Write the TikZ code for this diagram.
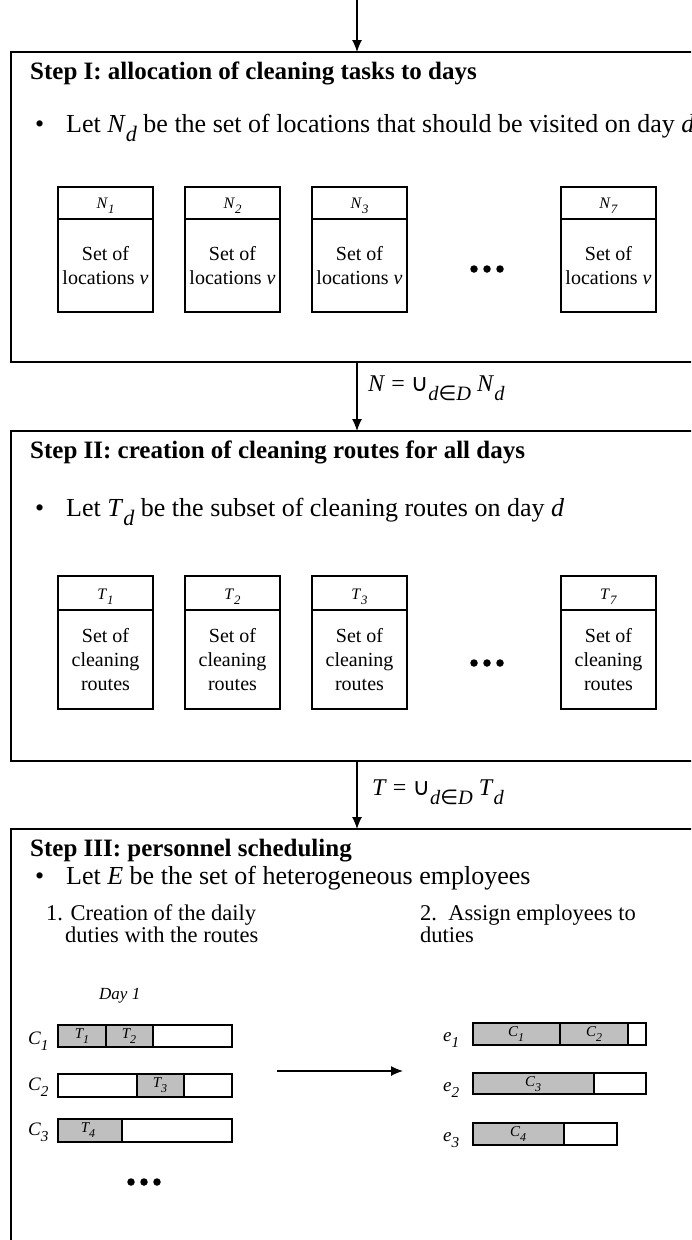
\documentclass[tikz,border=0pt]{standalone}
\usepackage{graphicx}
\usepackage{fontspec}
\setmainfont{Liberation Serif}
\newfontfamily\symf{DejaVu Sans}
\usetikzlibrary{arrows.meta}
\newcommand\lowsub[1]{\raisebox{-0.32em}{\scalebox{0.8}{#1}}}
\newcommand\deepsub[1]{\raisebox{-0.38em}{\scalebox{0.85}{#1}}}
\begin{document}
\begin{tikzpicture}[x=1pt,y=-1pt,
 frm/.style={line width=1.3pt},
 sbx/.style={draw,line width=1.2pt},
 arr/.style={line width=1.2pt,-{Latex[length=12pt,width=10pt]}},
 ttl/.style={anchor=base west,inner sep=0pt,font=\fontsize{25}{29}\selectfont\bfseries},
 btxt/.style={anchor=base west,inner sep=0pt,font=\fontsize{26}{30}\selectfont},
 hdr/.style={inner sep=0pt,anchor=base,font=\fontsize{16}{19}\selectfont},
 body/.style={inner sep=0pt,align=center,font=\fontsize{20}{24}\selectfont},
 itm/.style={anchor=base west,inner sep=0pt,font=\fontsize{22.5}{26}\selectfont},
 seg/.style={draw,line width=1.2pt},
 gseg/.style={seg,fill=gray!50},
 blab/.style={inner sep=0pt,font=\fontsize{15}{18}\selectfont\itshape},
 rlab/.style={anchor=base west,inner sep=0pt,font=\fontsize{19}{22}\selectfont\itshape},
 bdot/.style={circle,fill,inner sep=0pt,minimum size=7.5pt}
]
\useasboundingbox (0,0) rectangle (691,1240);
\clip (0,0) rectangle (691,1240);

% frames
\draw[frm] (720,52) -- (11,52) -- (11,362) -- (720,362);
\draw[frm] (720,431) -- (11,431) -- (11,761) -- (720,761);
\draw[frm] (720,829) -- (11,829) -- (11,1260);

% connector points
\coordinate (in) at (357,0);
\coordinate (s1t) at (357,52);
\coordinate (s1b) at (357,362);
\coordinate (s2t) at (357,431);
\coordinate (s2b) at (357,761);
\coordinate (s3t) at (357,829);
\draw[arr] (in) -- (s1t);
\draw[arr] (s1b) -- (s2t);
\draw[arr] (s2b) -- (s3t);

\node[btxt,font=\fontsize{24}{28}\selectfont] (lab1) at (368,391) {\textit{N} = {\symf ∪}\deepsub{\textit{d}{\symf ∈}\textit{D}} \textit{N}\deepsub{\textit{d}}};
\node[btxt,font=\fontsize{24}{28}\selectfont] (lab2) at (372,795) {\textit{T} = {\symf ∪}\deepsub{\textit{d}{\symf ∈}\textit{D}} \textit{T}\deepsub{\textit{d}}};

% Step I
\node[ttl] (t1) at (30,79) {Step I: allocation of cleaning tasks to days};
\node[btxt] (b1d) at (35,132) {•};
\node[btxt] (b1) at (66,132) {Let \textit{N}\deepsub{\textit{d}} be the set of locations that should be visited on day \textit{d}};
\foreach \i/\x in {1/58,2/185,3/312,7/561} {
  \draw[sbx] (\x,187) rectangle ({\x+95},312);
  \draw[sbx] (\x,219) -- ({\x+95},219);
  \node[hdr] (n\i) at ({\x+47.5},208) {\textit{N}\lowsub{\textit{\i}}};
  \node[body] (nb\i) at ({\x+47.5},266) {Set of\\locations \textit{v}};
}
\node[bdot] (d1a) at (474,269) {};
\node[bdot] (d1b) at (487,269) {};
\node[bdot] (d1c) at (500,269) {};

% Step II
\node[ttl] (t2) at (30,458) {Step II: creation of cleaning routes for all days};
\node[btxt] (b2d) at (35,516) {•};
\node[btxt] (b2) at (66,516) {Let \textit{T}\deepsub{\textit{d}} be the subset of cleaning routes on day \textit{d}};
\foreach \i/\x in {1/58,2/185,3/312,7/561} {
  \draw[sbx] (\x,576) rectangle ({\x+95},709);
  \draw[sbx] (\x,610) -- ({\x+95},610);
  \node[hdr] (tt\i) at ({\x+47.5},599) {\textit{T}\lowsub{\textit{\i}}};
  \node[body] (tb\i) at ({\x+47.5},660) {Set of\\cleaning\\routes};
}
\node[bdot] (d2a) at (474,663) {};
\node[bdot] (d2b) at (487,663) {};
\node[bdot] (d2c) at (500,663) {};

% Step III
\node[ttl] (t3) at (30,856) {Step III: personnel scheduling};
\node[btxt] (b3d) at (35,884) {•};
\node[btxt] (b3) at (66,884) {Let \textit{E} be the set of heterogeneous employees};
\node[itm] (i1a) at (46,920) {1. Creation of the daily};
\node[itm] (i1b) at (65,942) {duties with the routes};
\node[itm] (i2a) at (420,920) {2.\ \ Assign employees to};
\node[itm] (i2b) at (420,942) {duties};
\node[anchor=base west,inner sep=0pt,font=\fontsize{17}{20}\selectfont\itshape] (day) at (99,999) {Day 1};

% duties (left)
\draw[gseg] (58,1025) rectangle (106,1047);
\draw[gseg] (106,1025) rectangle (153,1047);
\draw[seg] (153,1025) rectangle (232,1047);
\node[blab] (ct1) at (82,1036) {T\lowsub{1}};
\node[blab] (ct2) at (129,1036) {T\lowsub{2}};
\draw[seg] (58,1074) rectangle (137,1097);
\draw[gseg] (137,1074) rectangle (184,1097);
\draw[seg] (184,1074) rectangle (232,1097);
\node[blab] (ct3) at (160,1085) {T\lowsub{3}};
\draw[gseg] (58,1119) rectangle (122,1142);
\draw[seg] (122,1119) rectangle (232,1142);
\node[blab] (ct4) at (88,1130) {T\lowsub{4}};
\node[rlab] (c1) at (28,1044) {C\lowsub{1}};
\node[rlab] (c2) at (28,1090) {C\lowsub{2}};
\node[rlab] (c3) at (28,1135) {C\lowsub{3}};
\node[bdot] (d3a) at (131,1182) {};
\node[bdot] (d3b) at (144,1182) {};
\node[bdot] (d3c) at (157,1182) {};

% arrow
\coordinate (m1) at (277,1071);
\coordinate (m2) at (403,1071);
\draw[arr] (m1) -- (m2);

% employees (right)
\draw[gseg] (473,1023) rectangle (560,1045);
\draw[gseg] (560,1023) rectangle (628,1045);
\draw[seg] (628,1023) rectangle (646,1045);
\node[blab] (ec1) at (516,1034) {C\lowsub{1}};
\node[blab] (ec2) at (594,1034) {C\lowsub{2}};
\draw[gseg] (473,1073) rectangle (594,1094);
\draw[seg] (594,1073) rectangle (646,1094);
\node[blab] (ec3) at (533,1084) {C\lowsub{3}};
\draw[gseg] (473,1123) rectangle (564,1145);
\draw[seg] (564,1123) rectangle (617,1145);
\node[blab] (ec4) at (518,1134) {C\lowsub{4}};
\node[rlab] (e1) at (443,1041) {e\lowsub{1}};
\node[rlab] (e2) at (443,1091) {e\lowsub{2}};
\node[rlab] (e3) at (443,1141) {e\lowsub{3}};
\end{tikzpicture}
\end{document}
